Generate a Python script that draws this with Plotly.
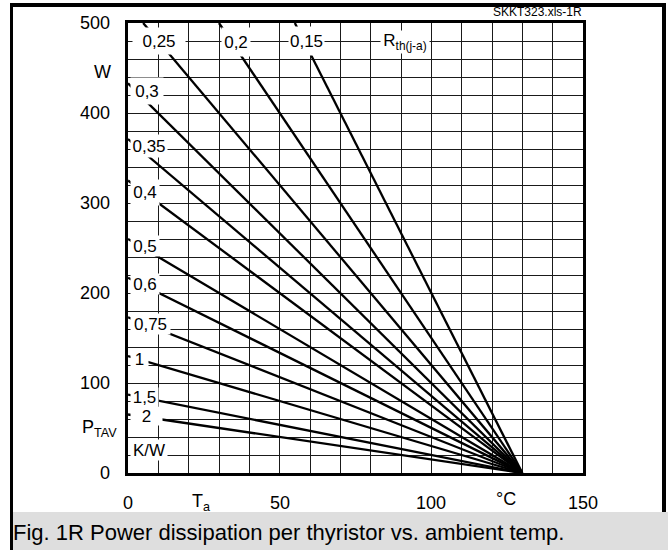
import plotly.graph_objects as go

# ---------------- data ----------------
r_th = [0.15, 0.2, 0.25, 0.3, 0.35, 0.4, 0.5, 0.6, 0.75, 1, 1.5, 2]
r_labels = ["0,15", "0,2", "0,25", "0,3", "0,35", "0,4", "0,5", "0,6", "0,75", "1", "1,5", "2"]
start_ta = [55, 30, 5, 0, 0, 0, 0, 0, 0, 0, 0, 0]          # °C where each line enters the chart
start_p = [500, 500, 500, 433, 371, 325, 260, 217, 173, 130, 87, 65]  # W at that point
end_ta = [130] * 12                                          # all lines meet at Tj
end_p = [0] * 12

# label positions (Ta, P) and box sizes (px)
label_ta = [59, 35.6, 10.2, 6.3, 6.9, 5.6, 5.6, 5.6, 7.4, 3.8, 5.4, 6.1]
label_p = [480, 479, 480, 424, 363, 312, 252, 210, 165.5, 126.7, 85, 62.8]
label_w = [35, 28, 52, 32, 36, 28, 28, 28, 39, 17, 27, 31]
label_h = [28, 28, 26, 26, 22, 25, 20, 20, 20, 18, 18, 18]

x_ticks = [0, 50, 100, 150]
y_ticks = [0, 100, 200, 300, 400, 500]

# ---------------- geometry (px) ----------------
W, H = 670, 550
L, R, T, B = 128, 583, 23, 473


def px(x):
    return (x - L) / (R - L)


def py(y):
    return (B - y) / (B - T)


fig = go.Figure()
for i, r in enumerate(r_th):
    fig.add_trace(go.Scatter(
        x=[start_ta[i], end_ta[i]], y=[start_p[i], end_p[i]],
        mode="lines", line=dict(color="black", width=2.3),
        hoverinfo="skip", showlegend=False))

FONT = "Liberation Sans, Arial, sans-serif"
ann = []
# curve labels with white boxes
for i in range(len(r_th)):
    ann.append(dict(x=label_ta[i], y=label_p[i], xref="x", yref="y",
                    text=r_labels[i], showarrow=False, bgcolor="white",
                    width=label_w[i], height=label_h[i], borderpad=0,
                    font=dict(family=FONT, size=17, color="black")))
ann.append(dict(x=91.3, y=479, xref="x", yref="y", text="R<sub>th(j-a)</sub>",
                showarrow=False, bgcolor="white", width=48, height=22, borderpad=0,
                font=dict(family=FONT, size=17, color="black")))
ann.append(dict(x=6.9, y=25.6, xref="x", yref="y", text="K/W",
                showarrow=False, bgcolor="white", width=36, height=20, borderpad=0,
                font=dict(family=FONT, size=17, color="black")))

# y tick labels
for v in y_ticks:
    ann.append(dict(x=px(112), y=v, xref="paper", yref="y", text=str(v),
                    xanchor="right", yanchor="middle", showarrow=False,
                    font=dict(family=FONT, size=18, color="black")))
ann.append(dict(x=px(113), y=py(72), xref="paper", yref="paper", text="W",
                xanchor="right", yanchor="middle", showarrow=False,
                font=dict(family=FONT, size=18, color="black")))
ann.append(dict(x=px(119), y=py(428), xref="paper", yref="paper", text="P<sub>TAV</sub>",
                xanchor="right", yanchor="middle", showarrow=False,
                font=dict(family=FONT, size=18, color="black")))
# x tick labels
for v in x_ticks:
    ann.append(dict(x=v, y=py(503), xref="x", yref="paper", text=str(v),
                    xanchor="center", yanchor="middle", showarrow=False,
                    font=dict(family=FONT, size=18, color="black")))
ann.append(dict(x=px(190), y=py(502), xref="paper", yref="paper", text="T<sub>a</sub>",
                xanchor="left", yanchor="middle", showarrow=False,
                font=dict(family=FONT, size=18, color="black")))
ann.append(dict(x=px(506), y=py(499), xref="paper", yref="paper", text="°C",
                xanchor="center", yanchor="middle", showarrow=False,
                font=dict(family=FONT, size=18, color="black")))
# top-right id
ann.append(dict(x=px(584), y=py(12), xref="paper", yref="paper", text="SKKT323.xls-1R",
                xanchor="right", yanchor="middle", showarrow=False,
                font=dict(family=FONT, size=12, color="black")))
# caption
ann.append(dict(x=px(11), y=py(532), xref="paper", yref="paper",
                text="Fig. 1R Power dissipation per thyristor vs. ambient temp.",
                xanchor="left", yanchor="middle", showarrow=False,
                font=dict(family=FONT, size=22, color="black")))

shapes = [
    dict(type="rect", xref="paper", yref="paper", x0=px(13), x1=px(668), y0=py(512), y1=py(551),
         fillcolor="#dedede", line=dict(width=0), layer="below"),
    dict(type="line", xref="paper", yref="paper", x0=px(10), x1=px(666), y0=py(5), y1=py(5),
         line=dict(color="black", width=4)),
    dict(type="line", xref="paper", yref="paper", x0=px(11.5), x1=px(11.5), y0=py(3), y1=py(551),
         line=dict(color="black", width=3)),
    dict(type="line", xref="paper", yref="paper", x0=px(664), x1=px(664), y0=py(3), y1=py(512),
         line=dict(color="black", width=4)),
]

axis_common = dict(showgrid=True, gridcolor="#1a1a1a", gridwidth=1.2, zeroline=False,
                   showline=True, mirror=True, linecolor="black", linewidth=3,
                   showticklabels=False, ticks="", fixedrange=True)
fig.update_layout(
    width=W, height=H,
    margin=dict(l=L, r=W - R, t=T, b=H - B, pad=0),
    paper_bgcolor="white", plot_bgcolor="white",
    xaxis=dict(range=[0, 150], dtick=10, **axis_common),
    yaxis=dict(range=[0, 500], dtick=20, **axis_common),
    annotations=ann, shapes=shapes, showlegend=False,
)
fig.write_html("out.html", config={"displayModeBar": False},
               post_script="document.body.style.margin='0';document.body.style.overflow='hidden';")
